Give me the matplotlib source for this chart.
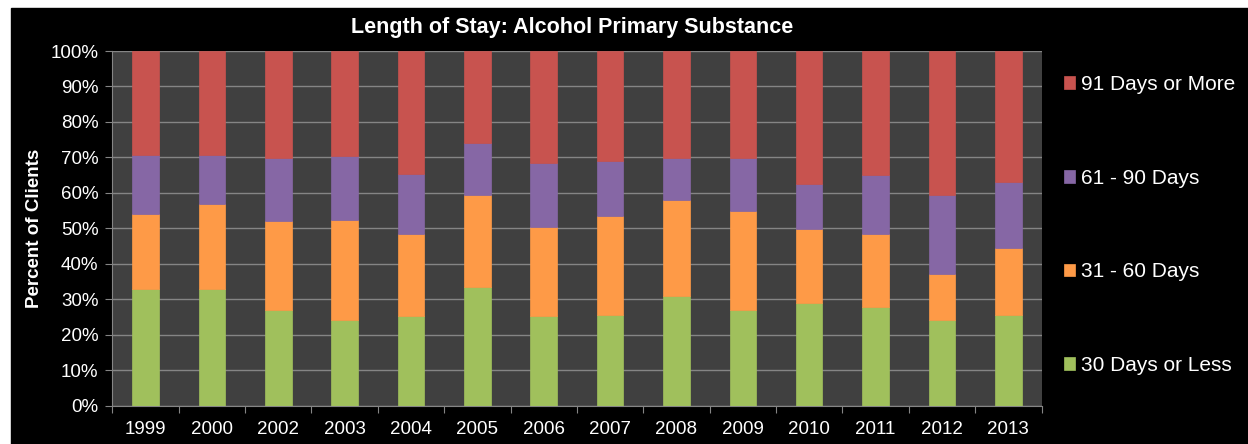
import matplotlib.pyplot as plt
import matplotlib.patches as mpatches
import numpy as np

plt.rcParams['font.family'] = ['Liberation Sans', 'DejaVu Sans']

years = ['1999', '2000', '2002', '2003', '2004', '2005', '2006',
         '2007', '2008', '2009', '2010', '2011', '2012', '2013']

# percent of clients in each length-of-stay group
less_30 = [32.9, 32.9, 26.9, 24.1, 25.2, 33.6, 25.2, 25.6, 30.9, 26.9, 28.9, 27.7, 24.1, 25.6]
d31_60 = [21.1, 24.1, 25.1, 28.3, 23.2, 25.8, 25.2, 27.8, 27.0, 28.0, 21.0, 20.7, 13.1, 18.8]
d61_90 = [16.7, 13.7, 17.7, 18.1, 16.9, 14.7, 17.9, 15.7, 11.8, 14.8, 12.7, 16.6, 22.1, 18.7]
more_91 = [29.3, 29.3, 30.3, 29.5, 34.7, 25.9, 31.7, 30.9, 30.3, 30.3, 37.4, 35.0, 40.7, 36.9]

series = [
    ('30 Days or Less', less_30, '#A0C05C'),
    ('31 - 60 Days', d31_60, '#FE9A47'),
    ('61 - 90 Days', d61_90, '#8667A5'),
    ('91 Days or More', more_91, '#C8534F'),
]

fig = plt.figure(figsize=(12.48, 4.44), dpi=100, facecolor='white')
# black panel behind everything (white margin top and left)
fig.patches.append(mpatches.Rectangle((11 / 1248, 0), 1, (444 - 8) / 444,
                                      transform=fig.transFigure, color='black', zorder=-10))

ax = fig.add_axes([112.3 / 1248, 38.3 / 444, (1041.5 - 112.3) / 1248, (405.7 - 51) / 444])
ax.set_facecolor('#404040')

x = np.arange(len(years))
bottom = np.zeros(len(years))
handles = []
for label, vals, col in series:
    b = ax.bar(x, vals, width=0.4, bottom=bottom, color=col, label=label,
               edgecolor=col, linewidth=0.5, zorder=3)
    handles.append(b)
    bottom += np.array(vals)

ax.set_xlim(-0.5, len(years) - 0.5)
ax.set_ylim(0, 100)
ax.set_yticks(np.arange(0, 101, 10))
ax.set_yticklabels(['%d%%' % v for v in range(0, 101, 10)])
ax.yaxis.grid(True, color='#858585', linewidth=1, zorder=0)
ax.set_axisbelow(True)

# ticks at category boundaries, labels at centers
ax.set_xticks(np.arange(-0.5, len(years), 1))
ax.set_xticklabels([])
ax.set_xticks(x, minor=True)
ax.set_xticklabels(years, minor=True)
ax.tick_params(axis='x', which='major', length=5, color='#858585', direction='out')
ax.tick_params(axis='x', which='minor', length=0, pad=11, labelsize=13.5, labelcolor='white')
ax.tick_params(axis='y', length=5, color='#858585', pad=5, labelsize=13.5, labelcolor='white')

for s in ['top', 'right']:
    ax.spines[s].set_visible(False)
for s in ['left', 'bottom']:
    ax.spines[s].set_color('#858585')

ax.set_ylabel('Percent of Clients', color='white', fontsize=13.5, fontweight='bold')
ax.yaxis.set_label_coords(-0.0745, 0.5)

fig.text(572 / 1248, (444 - 28) / 444, 'Length of Stay: Alcohol Primary Substance',
         color='white', fontsize=15.5, fontweight='bold', ha='center', va='center')

leg = fig.legend(handles[::-1], [s[0] for s in series][::-1], loc='center left',
                 bbox_to_anchor=(1064 / 1248, (444 - 225) / 444), frameon=False,
                 fontsize=15, labelcolor='white', handlelength=0.55, handleheight=0.55,
                 handletextpad=0.25, labelspacing=3.58, borderpad=0, borderaxespad=0)

fig.savefig('out.png', dpi=100, facecolor=fig.get_facecolor())
